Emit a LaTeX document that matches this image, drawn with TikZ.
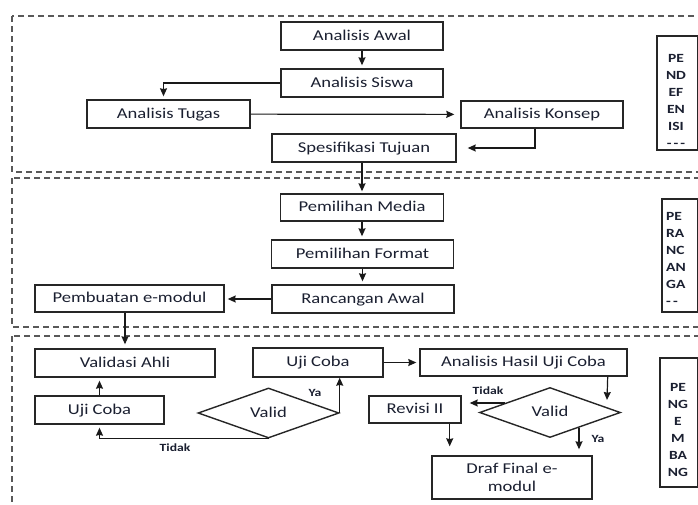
\documentclass[tikz,border=0pt]{standalone}
\usepackage{fontspec}
\setmainfont{Carlito}[FakeStretch=1.24]
\usepackage{tikz}
\usetikzlibrary{shapes,arrows.meta,calc}
\definecolor{textc}{HTML}{1A1F30}

\begin{document}
\begin{tikzpicture}[x=1pt,y=1pt]
    \tikzstyle{edge}=[line width=1.2pt,draw=black!90]
    \tikzstyle{dedge}=[edge,->,>={Stealth[length=8pt,width=7pt,inset=0.8pt]},shorten >=3pt]
    \tikzstyle{frame}=[line width=1.4pt,draw=black!65,dash pattern=on 6pt off 4pt]
    \tikzstyle{stage}=[
      rectangle,
      draw=black!85,
      line width=1.4pt,
      text=textc,
      inner sep=0pt,
      align=center,
      font=\fontsize{15}{18}\selectfont,
    ]
    \tikzstyle{oneline}=[stage,text height=11pt,text depth=2.3pt]
    \tikzstyle{decision}=[
      oneline,
      diamond,
      minimum width=141pt,
      minimum height=50pt,
    ]
    \tikzstyle{phase}=[rectangle,draw=black!85,line width=1.2pt]
    \tikzstyle{phasetext}=[text=textc,inner sep=0pt,font=\bfseries\fontsize{12.5}{17}\selectfont]
    \tikzstyle{answer}=[text=textc,inner sep=0pt,font=\bfseries\fontsize{11}{12}\selectfont]

    \useasboundingbox (0,-504) rectangle (698,0);
    \clip (0,-504) rectangle (698,0);

    \coordinate (defAnchor) at (362,-36);
    \coordinate (desAnchor) at (362,-207.5);
    \coordinate (devAnchor) at (125,-363);

    % frames
    {
      \draw[frame] (12,-16) rectangle (712,-172);
      \draw[frame] (12,-178) rectangle (712,-327);
      \draw[frame] (12,-336) rectangle (712,-520);
    }

    % pendefinisian
    {
      \node[oneline, minimum width=162pt, minimum height=28pt] (awal) at ([xshift=0pt, yshift=0pt] defAnchor) {Analisis Awal};
      \node[oneline, minimum width=162pt, minimum height=28pt] (siswa) at ([xshift=0pt, yshift=-47pt] defAnchor) {Analisis Siswa};
      \node[oneline, minimum width=163pt, minimum height=28pt] (tugas) at ([xshift=-193.5pt, yshift=-78pt] defAnchor) {Analisis Tugas};
      \node[oneline, minimum width=162pt, minimum height=27pt] (konsep) at ([xshift=180pt, yshift=-78.5pt] defAnchor) {Analisis Konsep};
      \node[oneline, minimum width=184pt, minimum height=28pt] (tujuan) at ([xshift=2pt, yshift=-112pt] defAnchor) {Spesifikasi Tujuan};

      \node[phase, minimum width=41pt, minimum height=114pt] (side1) at (677.5,-93) {};
      \node[phasetext, align=center] (side1txt) at (676,-101) {PE\\ND\\EF\\EN\\ISI\\-\,-\,-};

      \draw[dedge] (awal)--(siswa);
      \draw[dedge] (siswa.west) -| ([xshift=-5pt]tugas.north);
      \draw[dedge, shorten >=6pt] (tugas)--(konsep);
      \draw[dedge, shorten >=11pt] ([xshift=-7pt]konsep.south) |- (tujuan.east);
    }

    % perancangan
    {
      \node[oneline, minimum width=163pt, minimum height=27pt] (media) at ([xshift=0pt, yshift=0pt] desAnchor) {Pemilihan Media};
      \node[oneline, minimum width=182pt, minimum height=28pt] (format) at ([xshift=0.5pt, yshift=-46.5pt] desAnchor) {Pemilihan Format};
      \node[oneline, minimum width=182pt, minimum height=28pt] (rancangan) at ([xshift=1pt, yshift=-91.5pt] desAnchor) {Rancangan Awal};
      \node[oneline, minimum width=189pt, minimum height=27pt] (pembuatan) at ([xshift=-232.5pt, yshift=-91pt] desAnchor) {Pembuatan e-modul};

      \node[phase, minimum width=36pt, minimum height=113pt] (side2) at (680,-255.5) {};
      \node[phasetext, align=left, anchor=west] (side2txt) at (666,-259) {PE\\RA\\NC\\AN\\GA\\-\,-};

      \draw[dedge, shorten >=2pt] (tujuan.south -| media.north)--(media.north);
      \draw[dedge] (media.south)--(media.south |- format.north);
      \draw[dedge] (format.south)--(format.south |- rancangan.north);
      \draw[dedge] (rancangan.west)--(rancangan.west -| pembuatan.east);
    }

    % pengembangan
    {
      \node[oneline, minimum width=180pt, minimum height=28pt] (validasi) at ([xshift=0pt, yshift=0pt] devAnchor) {Validasi Ahli};
      \node[oneline, minimum width=129pt, minimum height=28pt] (ujiA) at ([xshift=-25.5pt, yshift=-47pt] devAnchor) {Uji Coba};
      \node[decision] (valid1) at ([xshift=143.5pt, yshift=-50pt] devAnchor) {Valid};
      \node[oneline, minimum width=130pt, minimum height=29pt] (ujiB) at ([xshift=193pt, yshift=0.5pt] devAnchor) {Uji Coba};
      \node[oneline, minimum width=207pt, minimum height=27pt] (hasil) at ([xshift=398.5pt, yshift=0.5pt] devAnchor) {Analisis Hasil Uji Coba};
      \node[oneline, minimum width=92pt, minimum height=27pt] (revisi) at ([xshift=290pt, yshift=-46.5pt] devAnchor) {Revisi II};
      \node[decision] (valid2) at ([xshift=425pt, yshift=-49.5pt] devAnchor) {Valid};
      \node[stage, minimum width=160pt, minimum height=43pt] (draf) at ([xshift=387pt, yshift=-114.5pt] devAnchor) {Draf Final e-\\modul};

      \node[phase, minimum width=38pt, minimum height=129pt] (side3) at (679,-422.5) {};
      \node[phasetext, align=center] (side3txt) at (678,-430) {PE\\NG\\E\\M\\BA\\NG};

      \node[answer] (ya1) at (315,-393) {Ya};
      \node[answer] (tidak1) at (175,-448) {Tidak};
      \node[answer] (tidak2) at (488,-391) {Tidak};
      \node[answer] (ya2) at (598,-439) {Ya};

      \draw[dedge, shorten >=4pt] (pembuatan.south -| validasi.north)--(validasi.north);
      \draw[dedge] (ujiA.north)--(ujiA.north |- validasi.south);
      \draw[dedge, shorten >=0pt] (valid1.east)--(valid1.east |- ujiB.south);
      \draw[dedge] (valid1.south) -| (ujiA.south);
      \draw[dedge] (ujiB.east)--(hasil.west);
      \draw[dedge, shorten >=0pt] ([xshift=-20pt]hasil.south east)--([xshift=57pt, yshift=12.5pt]valid2.center);
      \draw[dedge, shorten >=8pt] ([xshift=-45pt, yshift=9.5pt]valid2.center)--([yshift=6.5pt]revisi.east);
      \draw[dedge, shorten >=9pt] ([xshift=-12pt]revisi.south east)--([xshift=-12pt]revisi.south east |- draf.north);
      \draw[dedge, shorten >=6pt] ([xshift=29pt, yshift=-15pt]valid2.center)--([xshift=29pt]valid2.center |- draf.north);
    }
\end{tikzpicture}
\end{document}
